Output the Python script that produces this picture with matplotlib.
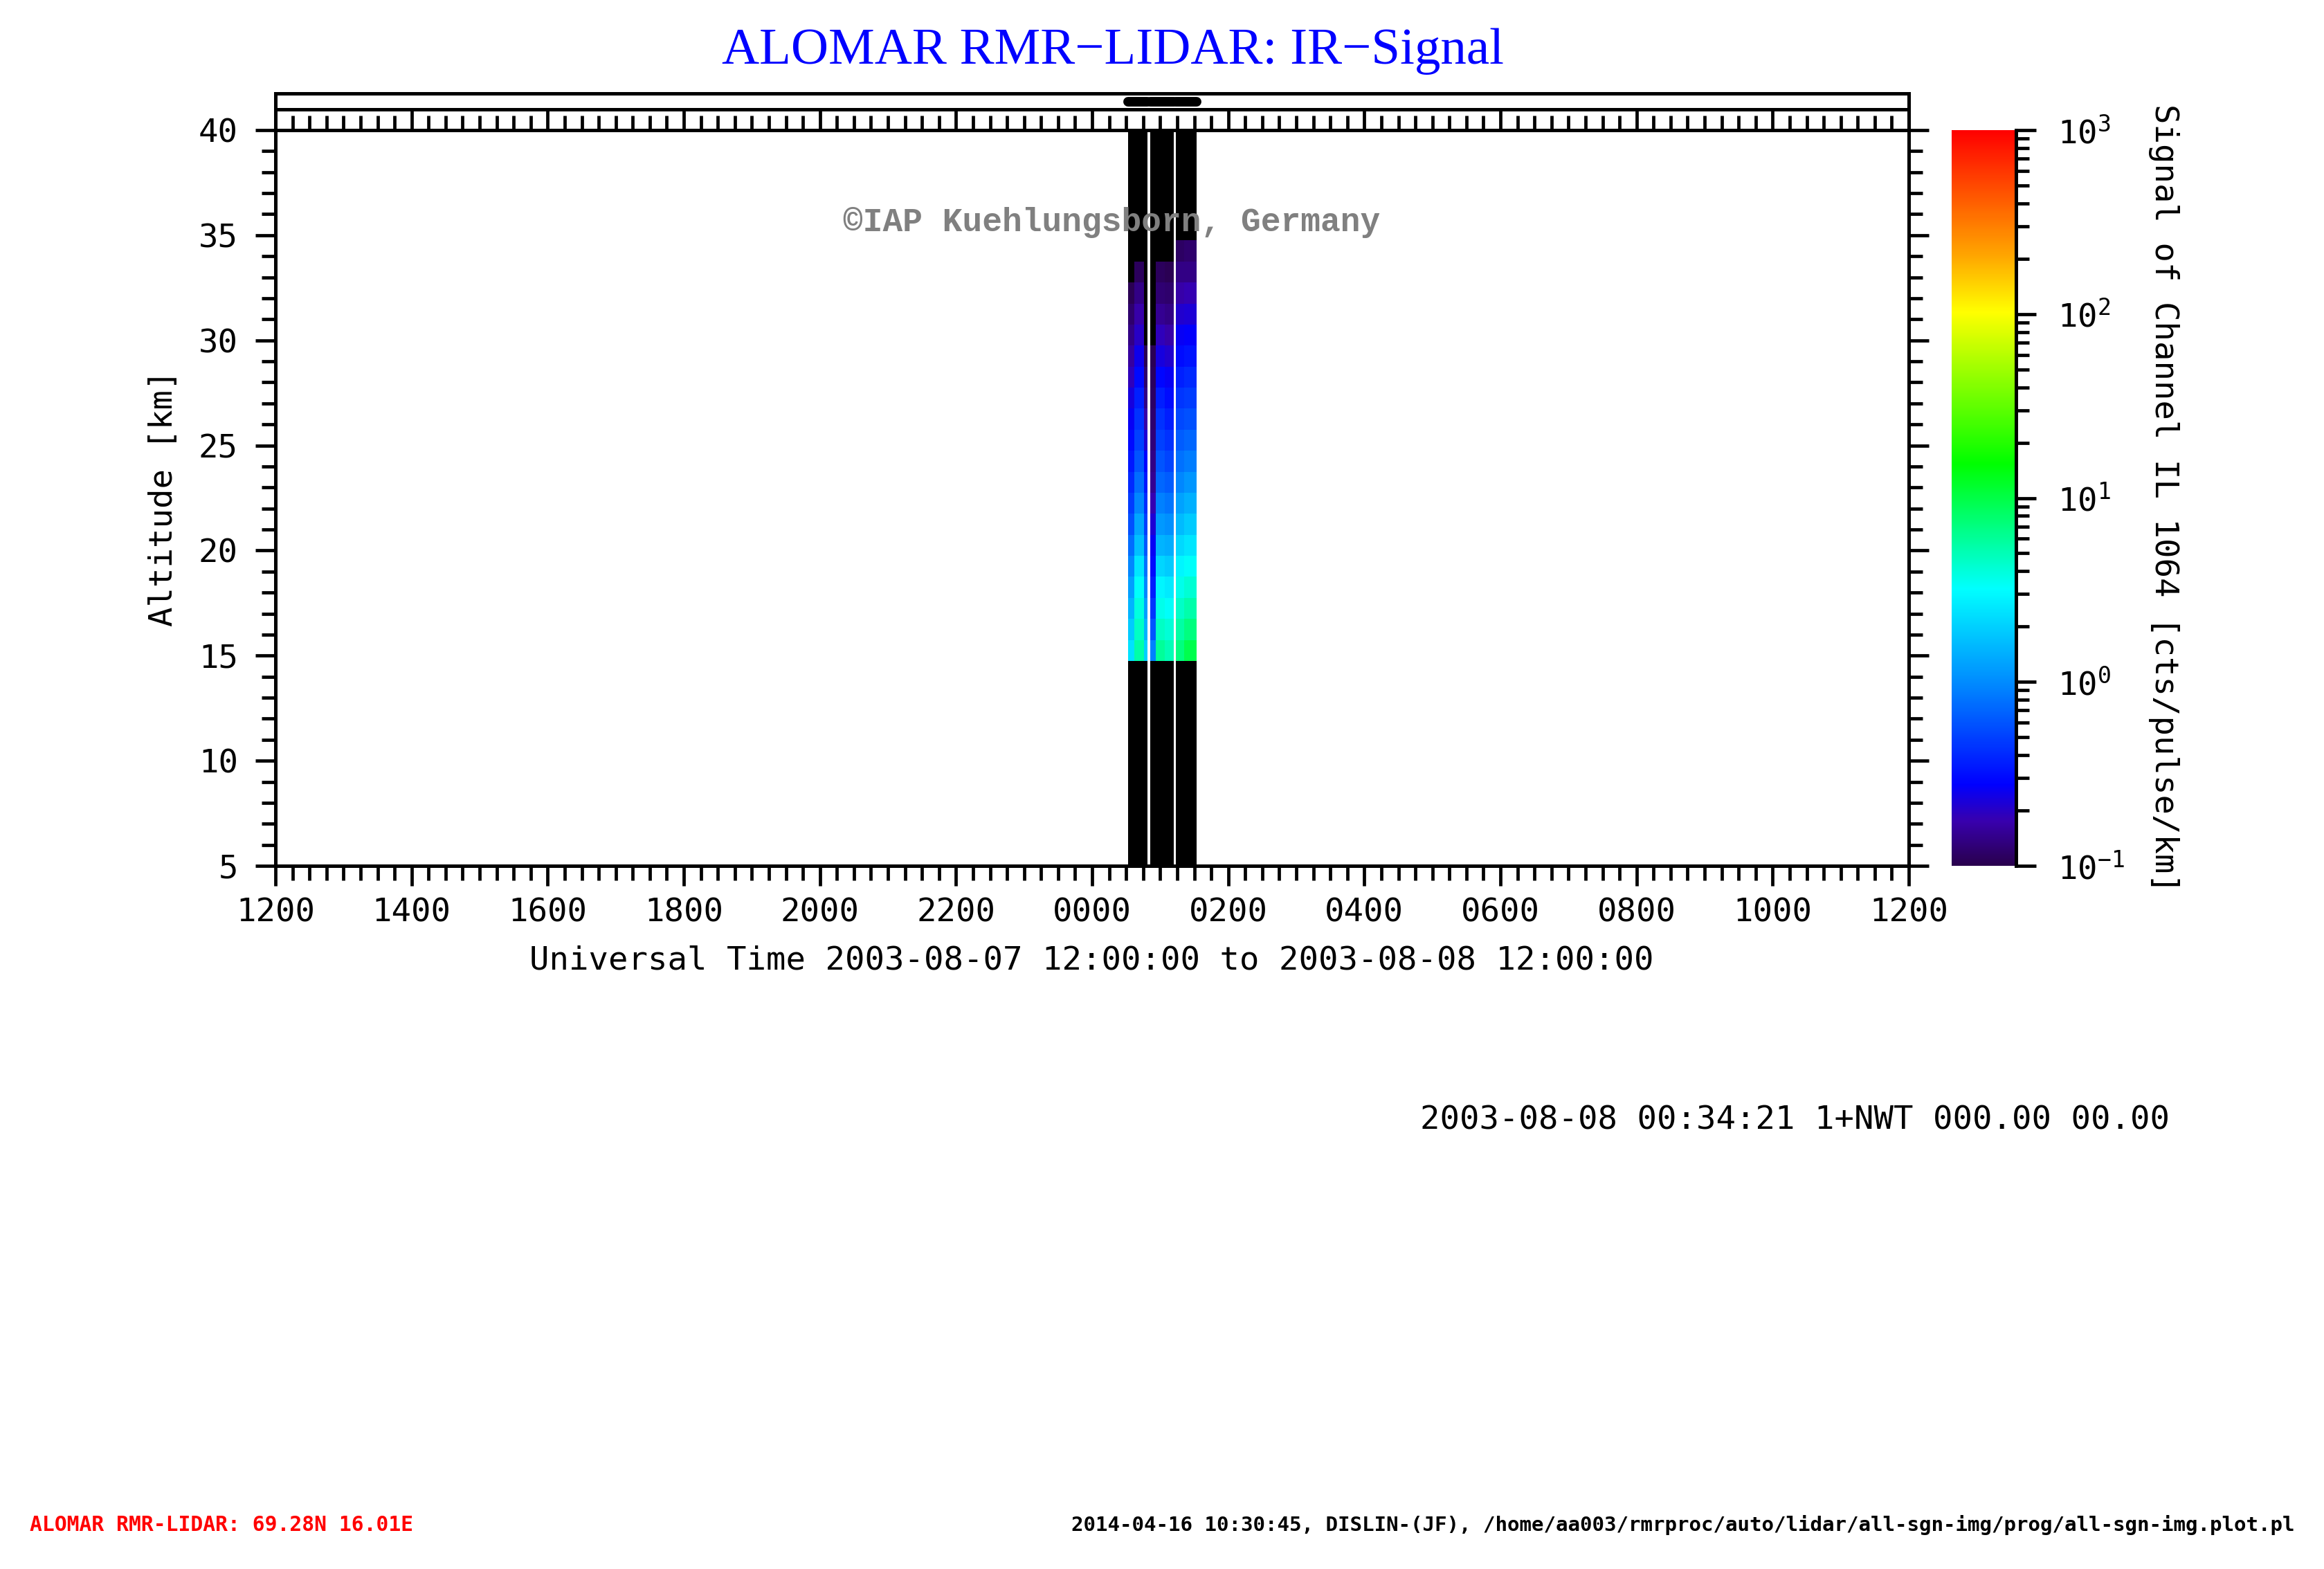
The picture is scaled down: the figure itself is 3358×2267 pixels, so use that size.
import matplotlib
matplotlib.use("Agg")
import matplotlib.pyplot as plt
import numpy as np
from matplotlib.colors import LinearSegmentedColormap, LogNorm
from matplotlib.ticker import MultipleLocator, FuncFormatter, LogLocator

# lidar profiles (UT on 2003-08-08), start/end of each integration
profile_start = ["00:32", "00:37", "00:46", "00:51", "00:56", "01:04", "01:14", "01:21"]
profile_end = ["00:37", "00:46", "00:49", "00:56", "01:04", "01:12", "01:21", "01:32"]

# measurement blocks marked in the top strip
block_start = ["00:32", "00:51", "01:14"]
block_end = ["00:49", "01:12", "01:32"]

# altitude bin centres [km]
altitude_km = [15.25, 16.25, 17.25, 18.25, 19.25, 20.25, 21.25, 22.25, 23.25,
               24.25, 25.25, 26.25, 27.25, 28.25, 29.25, 30.25, 31.25, 32.25,
               33.25, 34.25, 35.25, 36.25, 37.25, 38.25, 39.25]

# signal [cts/pulse/km], 0 = no signal (drawn black)
signal_a1 = [2.4, 1.9, 1.5, 1.2, 0.95, 0.75, 0.58, 0.48, 0.40, 0.34, 0.30, 0.26, 0.23,
             0.19, 0.16, 0.14, 0.12, 0.105, 0, 0, 0, 0, 0, 0, 0]
signal_a2 = [5.5, 4.6, 3.9, 3.3, 2.5, 1.7, 1.3, 0.95, 0.75, 0.60, 0.50, 0.43, 0.37,
             0.30, 0.25, 0.20, 0.17, 0.14, 0.11, 0, 0, 0, 0, 0, 0]
signal_a3 = [2.0, 1.5, 1.2, 0.95, 0.80, 0.62, 0.50, 0.42, 0.34, 0.28, 0.22, 0.17, 0.14,
             0.12, 0.105, 0, 0, 0, 0, 0, 0, 0, 0, 0, 0]
signal_b1 = [0.9, 0.6, 0.45, 0.36, 0.30, 0.26, 0.22, 0.18, 0.15, 0.14, 0.13, 0.12, 0.115,
             0.11, 0.105, 0, 0, 0, 0, 0, 0, 0, 0, 0, 0]
signal_b2 = [6.0, 4.6, 3.6, 2.9, 2.1, 1.5, 1.15, 0.90, 0.72, 0.60, 0.50, 0.43, 0.36,
             0.29, 0.23, 0.19, 0.15, 0.125, 0.11, 0, 0, 0, 0, 0, 0]
signal_b3 = [5.0, 4.1, 3.3, 2.6, 1.9, 1.4, 1.05, 0.82, 0.64, 0.52, 0.43, 0.36, 0.31,
             0.26, 0.21, 0.17, 0.14, 0.12, 0.105, 0, 0, 0, 0, 0, 0]
signal_c1 = [7.0, 5.6, 4.5, 3.6, 2.9, 2.2, 1.6, 1.25, 0.95, 0.78, 0.64, 0.54, 0.45,
             0.37, 0.31, 0.26, 0.21, 0.17, 0.14, 0.115, 0, 0, 0, 0, 0]
signal_c2 = [9.5, 7.0, 5.4, 4.2, 3.3, 2.5, 1.9, 1.45, 1.1, 0.88, 0.70, 0.58, 0.48,
             0.40, 0.33, 0.27, 0.22, 0.18, 0.14, 0.12, 0, 0, 0, 0, 0]

profiles = [signal_a1, signal_a2, signal_a3, signal_b1, signal_b2, signal_b3,
            signal_c1, signal_c2]

plt.rcParams["font.family"] = ["DejaVu Sans Mono"]
plt.rcParams["mathtext.default"] = "regular"

LW = 3.6
W, H = 3358, 2267


def ut_hours(s):
    h, m = (int(v) for v in s.split(":"))
    return h + m / 60 + (24 if h < 12 else 0)


cmap = LinearSegmentedColormap.from_list("dislin_rain", [
    (0.00, (0.16, 0.00, 0.30)),
    (0.06, (0.22, 0.00, 0.68)),
    (0.11, (0.00, 0.00, 1.00)),
    (0.25, (0.00, 0.55, 1.00)),
    (0.376, (0.00, 1.00, 1.00)),
    (0.547, (0.00, 1.00, 0.00)),
    (0.753, (1.00, 1.00, 0.00)),
    (0.83, (1.00, 0.65, 0.00)),
    (1.00, (1.00, 0.00, 0.00)),
], N=512)
cmap.set_bad("black")
cmap.set_under("black")
norm = LogNorm(vmin=0.1, vmax=1000)

fig = plt.figure(figsize=(W / 100, H / 100), dpi=100, facecolor="white")

ax_l, ax_r, ax_t, ax_b = 398 / W, 2758 / W, 1 - 188 / H, 1 - 1251 / H
ax = fig.add_axes([ax_l, ax_b, ax_r - ax_l, ax_t - ax_b])

edges = [5.0] + [a - 0.5 for a in altitude_km] + [altitude_km[-1] + 0.5, 40.0]
mesh = None
for t0, t1, prof in zip(profile_start, profile_end, profiles):
    vals = np.ma.masked_less_equal(np.array([0.0] + prof + [0.0]), 0).reshape(-1, 1)
    mesh = ax.pcolormesh([ut_hours(t0), ut_hours(t1)], edges, vals, cmap=cmap,
                         norm=norm, edgecolors="none", linewidth=0, antialiased=False)

ax.set_xlim(12, 36)
ax.set_ylim(5, 40)
ax.xaxis.set_major_locator(MultipleLocator(2))
ax.xaxis.set_minor_locator(MultipleLocator(0.25))
ax.xaxis.set_major_formatter(FuncFormatter(lambda x, p: f"{int(round(x)) % 24:02d}00"))
ax.yaxis.set_major_locator(MultipleLocator(5))
ax.yaxis.set_minor_locator(MultipleLocator(1))
ax.tick_params(axis="both", which="both", direction="out", width=LW * 0.95,
               top=True, right=True, labelsize=34)
ax.tick_params(axis="both", which="major", length=21)
ax.tick_params(axis="x", which="minor", length=15)
ax.tick_params(axis="y", which="minor", length=14.5)
ax.tick_params(axis="x", pad=12)
ax.tick_params(axis="y", pad=18)
for sp in ax.spines.values():
    sp.set_linewidth(LW)

# top strip with measurement periods
strip_t = 1 - 135 / H
strip = fig.add_axes([ax_l, ax_t, ax_r - ax_l, strip_t - ax_t])
strip.patch.set_visible(False)
strip.set_xlim(12, 36)
strip.set_ylim(0, 1)
strip.set_xticks([])
strip.set_yticks([])
strip.spines["bottom"].set_visible(False)
for sp in strip.spines.values():
    sp.set_linewidth(LW)
strip.axhline(0.566, color="black", lw=LW)
for b0, b1 in zip(block_start, block_end):
    strip.plot([ut_hours(b0), ut_hours(b1)], [0.774, 0.774], color="black", lw=10,
               solid_capstyle="round")

# colour bar
cax = fig.add_axes([2820 / W, ax_b, 93 / W, ax_t - ax_b])
cb = fig.colorbar(mesh, cax=cax)
cb.outline.set_visible(False)
cax.yaxis.set_minor_locator(LogLocator(base=10, subs=range(2, 10)))
cax.tick_params(which="both", direction="out", width=LW * 0.95, labelsize=34, pad=22)
cax.tick_params(which="major", length=21)
cax.tick_params(which="minor", length=14)
cax.plot([1, 1], [0, 1], transform=cax.transAxes, color="black", lw=LW,
         clip_on=False, solid_capstyle="projecting")

# texts
fig.text(1608 / W, 1 - 92 / H, "ALOMAR RMR\u2212LIDAR: IR\u2212Signal", color="blue",
         family="Liberation Serif", fontsize=54, ha="center", va="baseline")
fig.text(1606 / W, 1 - 321 / H, "\u00a9IAP Kuehlungsborn, Germany", color="#808080",
         family="Liberation Mono", fontweight="bold", fontsize=34.5, ha="center",
         va="center")
fig.text(236 / W, 1 - 720 / H, "Altitude [km]", rotation=90, fontsize=34,
         ha="center", va="center")
fig.text(1577 / W, 1 - 1388 / H,
         "Universal Time 2003-08-07 12:00:00 to 2003-08-08 12:00:00",
         fontsize=34, ha="center", va="center")
fig.text(3127 / W, 1 - 720 / H, "Signal of Channel IL 1064 [cts/pulse/km]",
         rotation=270, fontsize=34, ha="center", va="center")
fig.text(2052 / W, 1 - 1619 / H, "2003-08-08 00:34:21 1+NWT 000.00 00.00",
         fontsize=34, ha="left", va="center")
fig.text(43 / W, 1 - 2204 / H, "ALOMAR RMR-LIDAR: 69.28N 16.01E", color="red",
         fontsize=21.3, fontweight="bold", ha="left", va="center")
fig.text(3315 / W, 1 - 2204 / H,
         "2014-04-16 10:30:45, DISLIN-(JF), "
         "/home/aa003/rmrproc/auto/lidar/all-sgn-img/prog/all-sgn-img.plot.pl",
         fontsize=21, fontweight="bold", ha="right", va="center")

fig.savefig("out.png", dpi=100, facecolor="white")
